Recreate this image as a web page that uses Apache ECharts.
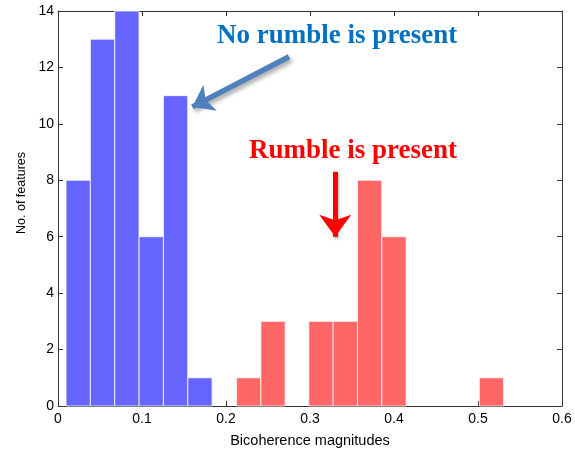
<!DOCTYPE html>
<html><head><meta charset="utf-8">
<script src="https://cdn.jsdelivr.net/npm/echarts@6/dist/echarts.min.js"></script>
<style>html,body{margin:0;padding:0;background:#fff}#c{width:575px;height:453px}</style>
</head><body><div id="c"></div>
<script>
// Histogram bins (centres) and counts
const binWidth = 0.0289;
const noRumbleCenters = [0.024, 0.053, 0.082, 0.111, 0.140, 0.169];
const noRumbleCounts  = [8, 13, 14, 6, 11, 1];
const rumbleCenters = [0.227, 0.256, 0.313, 0.342, 0.371, 0.400, 0.516];
const rumbleCounts  = [1, 3, 3, 3, 8, 6, 1];
const xTicks = [0, 0.1, 0.2, 0.3, 0.4, 0.5, 0.6];
const yTicks = [0, 2, 4, 6, 8, 10, 12, 14];
// annotation arrows in data coordinates
const blueArrow = [[0.275, 12.38], [0.160, 10.6]];
const redArrow = [[0.330, 8.3], [0.330, 6.0]];

const chart = echarts.init(document.getElementById('c'));
function barsRender(color) {
  return function (params, api) {
    const c = api.value(0), v = api.value(1);
    const p0 = api.coord([c - binWidth / 2, v]);
    const p1 = api.coord([c + binWidth / 2, 0]);
    return {
      type: 'rect',
      shape: { x: p0[0], y: p0[1], width: p1[0] - p0[0], height: p1[1] - p0[1] },
      style: { fill: color, stroke: 'rgba(255,255,255,0.75)', lineWidth: 1 }
    };
  };
}
const font = 'Liberation Sans, Arial, sans-serif';
const axisLine = { show: true, onZero: false, lineStyle: { color: '#333', width: 1 } };
const tick = { show: true, inside: true, length: 5, lineStyle: { color: '#333', width: 1 } };
chart.setOption({
  animation: false,
  grid: { left: 58, right: 13, top: 11, bottom: 45, containLabel: false },
  xAxis: [{
    type: 'value', min: 0, max: 0.6, interval: 0.1, position: 'bottom',
    name: 'Bicoherence magnitudes', nameLocation: 'middle', nameGap: 27,
    nameTextStyle: { fontFamily: font, fontSize: 14.5, color: '#000' },
    axisLine: axisLine, axisTick: tick,
    axisLabel: { fontFamily: font, fontSize: 14, color: '#000', margin: 6, formatter: v => String(v) },
    splitLine: { show: false }
  }, {
    type: 'value', min: 0, max: 0.6, interval: 0.1, position: 'top',
    axisLine: axisLine, axisTick: tick,
    axisLabel: { show: false }, splitLine: { show: false }
  }],
  yAxis: [{
    type: 'value', min: 0, max: 14, interval: 2, position: 'left',
    axisLine: axisLine, axisTick: tick,
    axisLabel: { fontFamily: font, fontSize: 14, color: '#000', margin: 4 },
    splitLine: { show: false }
  }, {
    type: 'value', min: 0, max: 14, interval: 2, position: 'right',
    axisLine: axisLine, axisTick: tick,
    axisLabel: { show: false }, splitLine: { show: false }
  }],
  series: [{
    type: 'custom', renderItem: barsRender('#6666ff'),
    data: noRumbleCenters.map((c, i) => [c, noRumbleCounts[i]])
  }, {
    type: 'custom', renderItem: barsRender('#ff6666'),
    data: rumbleCenters.map((c, i) => [c, rumbleCounts[i]])
  }, {
    type: 'line', data: [], silent: true,
    markLine: {
      silent: true, animation: false, label: { show: false },
      symbol: ['none', 'arrow'],
      data: [
        [{ coord: blueArrow[0], symbol: 'none', lineStyle: { color: '#4f81bd', width: 5.5, type: 'solid', shadowBlur: 4, shadowColor: 'rgba(0,0,0,0.35)', shadowOffsetX: 2, shadowOffsetY: 3 } },
         { coord: blueArrow[1], symbol: 'arrow', symbolSize: [22, 20] }],
        [{ coord: redArrow[0], symbol: 'none', lineStyle: { color: '#ff0000', width: 5, type: 'solid', shadowBlur: 3, shadowColor: 'rgba(0,0,0,0.3)', shadowOffsetX: 1, shadowOffsetY: 2 } },
         { coord: redArrow[1], symbol: 'arrow', symbolSize: [24, 22] }]
      ]
    }
  }],
  graphic: [{
    type: 'text', left: 217, top: 23,
    style: { text: 'No rumble is present', fill: '#0070c0', font: 'bold 27px "Liberation Serif", "Times New Roman", serif' }
  }, {
    type: 'text', left: 249, top: 138,
    style: { text: 'Rumble is present', fill: '#ff0000', font: 'bold 27px "Liberation Serif", "Times New Roman", serif' }
  }, {
    type: 'text', left: 15, top: 152, rotation: Math.PI / 2,
    style: { text: 'No. of features', fill: '#000', font: '12.5px "Liberation Sans", Arial, sans-serif' }
  }]
});
</script></body></html>
